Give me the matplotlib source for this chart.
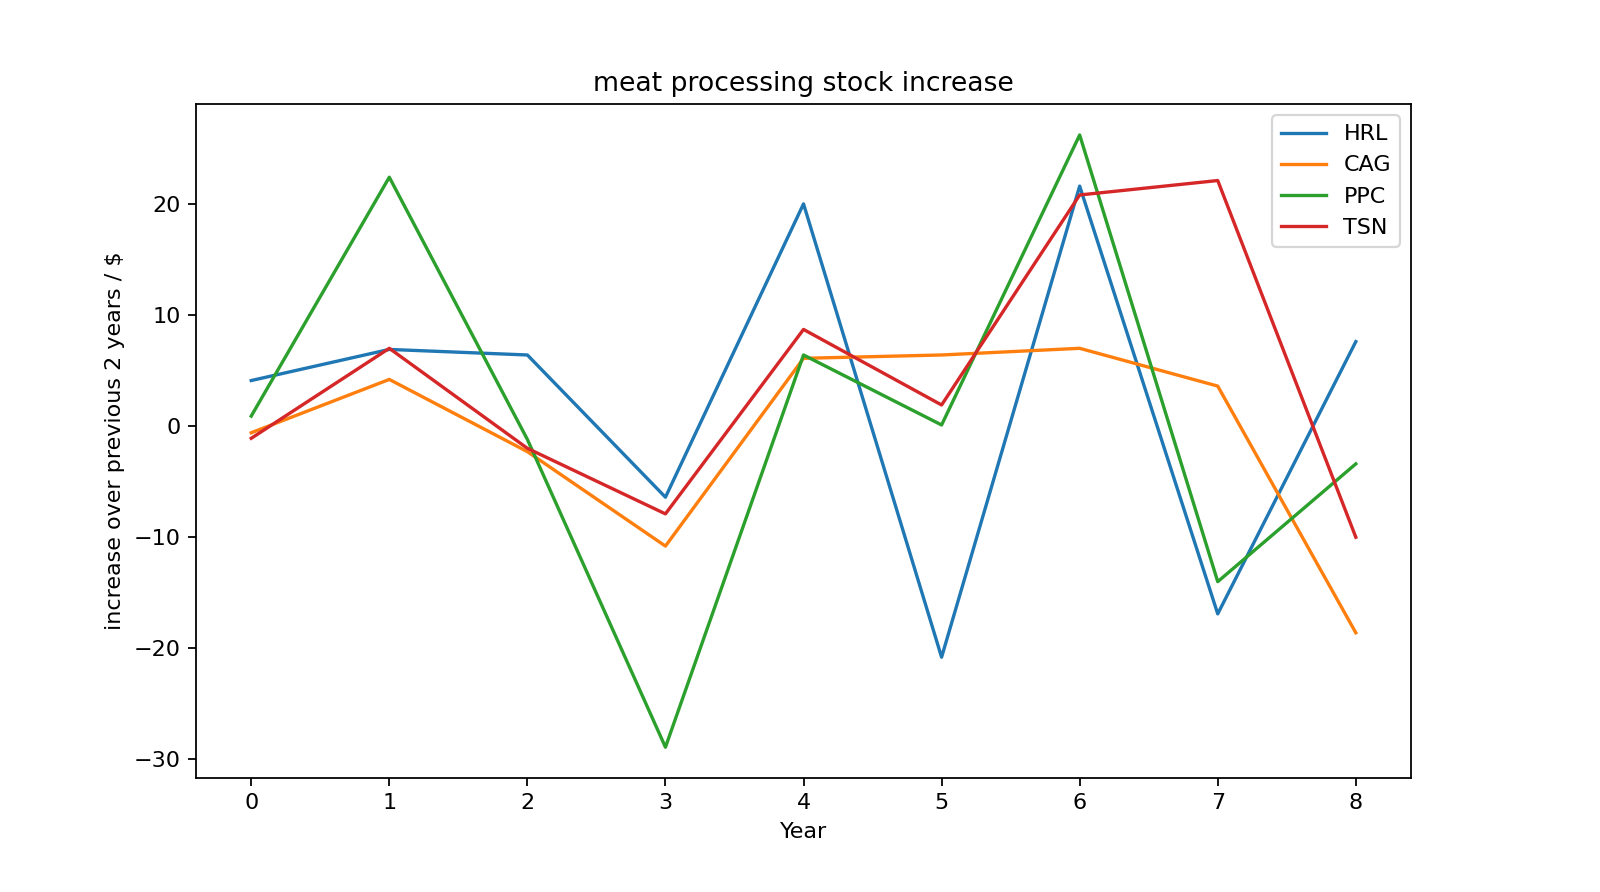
import matplotlib
matplotlib.use('Agg')
import matplotlib.pyplot as plt

years = list(range(9))
hrl = [4.1, 6.9, 6.4, -6.4, 20.0, -20.8, 21.6, -16.9, 7.6]
cag = [-0.6, 4.2, -2.3, -10.8, 6.1, 6.4, 7.0, 3.6, -18.6]
ppc = [0.9, 22.4, -1.2, -28.9, 6.4, 0.1, 26.2, -14.0, -3.4]
tsn = [-1.1, 7.0, -2.0, -7.9, 8.7, 1.9, 20.8, 22.1, -10.0]

fig = plt.figure(figsize=(10, 5.575), dpi=160)
ax = fig.add_axes([0.1225, 0.128, 0.7594, 0.755])
ax.plot(years, hrl, label='HRL')
ax.plot(years, cag, label='CAG')
ax.plot(years, ppc, label='PPC')
ax.plot(years, tsn, label='TSN')
ax.set_title('meat processing stock increase')
ax.set_xlabel('Year')
ax.set_ylabel('increase over previous 2 years / $')
ax.legend(loc='upper right')
plt.savefig('out.png')
